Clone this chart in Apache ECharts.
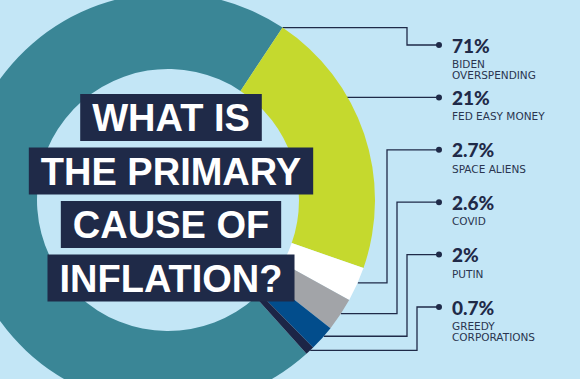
<!DOCTYPE html>
<html>
<head>
<meta charset="utf-8">
<style>
html,body{margin:0;padding:0;background:#c3e6f6;}
#chart{width:580px;height:379px;}
</style>
<script src="https://cdn.jsdelivr.net/npm/echarts@6/dist/echarts.min.js"></script>
</head>
<body>
<div id="chart"></div>
<script>
// ---- data ----
var categories = ['BIDEN\nOVERSPENDING', 'FED EASY MONEY', 'SPACE ALIENS', 'COVID', 'PUTIN', 'GREEDY\nCORPORATIONS'];
var values = [71, 21, 2.7, 2.6, 2, 0.7];
var sliceColors = ['#3a8696', '#c5d92e', '#ffffff', '#a2a4a8', '#024d8c', '#1c2546'];
var titleLines = ['WHAT IS', 'THE PRIMARY', 'CAUSE OF', 'INFLATION?'];

// ---- layout ----
var CX = 168, CY = 200, R_IN = 131, R_OUT = 207;
var START_CW = 138;            // degrees clockwise from 12 o'clock where the first slice starts
var LABEL_X = 436;
var DOT_Y0 = 45, DOT_STEP = 52.4;
var elbowX = [407, null, 387, 397, 407, 417];   // null: straight line
var anchorFrac = [1.0, 0.35, 0.45, 0.47, 0.4, 0.45];
var NAVY = '#1f2a48';
var PCT_LH = 27, NAME_LH = 11;

var total = values.reduce(function (a, b) { return a + b; }, 0);
function anchorAngle(i) {
  var before = 0;
  for (var k = 0; k < i; k++) before += values[k];
  var start = START_CW + 360 * before / total;
  return start + anchorFrac[i] * 360 * values[i] / total;
}

var chart = echarts.init(document.getElementById('chart'), null, { renderer: 'svg' });

var graphics = titleLines.map(function (t, i) {
  return {
    type: 'text',
    x: 171,
    y: 94 + i * 53.5,
    z: 100,
    style: {
      text: t,
      font: 'bold 38px "Liberation Sans", Arial, sans-serif',
      fill: '#ffffff',
      backgroundColor: NAVY,
      padding: [4, 12, 3, 12],
      lineHeight: 40,
      align: 'center',
      verticalAlign: 'top'
    }
  };
});

chart.setOption({
  backgroundColor: '#c3e6f6',
  animation: false,
  graphic: graphics,
  series: [{
    type: 'pie',
    center: [CX, CY],
    radius: [R_IN, R_OUT],
    startAngle: 90 - START_CW,
    clockwise: true,
    avoidLabelOverlap: false,
    emphasis: { disabled: true },
    data: categories.map(function (c, i) {
      return { name: c, value: values[i], itemStyle: { color: sliceColors[i] } };
    }),
    label: {
      show: true,
      position: 'outside',
      formatter: function (p) {
        var names = categories[p.dataIndex].split('\n').map(function (s) { return '{name|' + s + '}'; });
        return '{dot|}{pct|' + values[p.dataIndex] + '%}\n' + names.join('\n');
      },
      rich: {
        dot: { width: 6, height: 6, borderRadius: 3, backgroundColor: NAVY, lineHeight: PCT_LH },
        pct: { fontFamily: 'Lato', fontWeight: 900, fontSize: 19, color: NAVY, lineHeight: PCT_LH, padding: [0, 0, 0, 10] },
        name: { fontFamily: 'DejaVu Sans', fontWeight: 'normal', fontSize: 10.5, color: '#2a3550', lineHeight: NAME_LH, padding: [0, 0, 0, 16] }
      }
    },
    labelLine: {
      show: true,
      length: 10,
      length2: 10,
      lineStyle: { color: NAVY, width: 1.3 }
    },
    labelLayout: function (p) {
      var i = p.dataIndex;
      var dotY = DOT_Y0 + i * DOT_STEP;
      var a = anchorAngle(i) * Math.PI / 180;
      var sx = CX + R_OUT * Math.sin(a);
      var sy = CY - R_OUT * Math.cos(a);
      var ex = elbowX[i] == null ? sx : elbowX[i];
      return {
        x: LABEL_X,
        y: dotY - PCT_LH / 2,
        align: 'left',
        verticalAlign: 'top',
        labelLinePoints: [[sx, sy], [ex, sy], [ex, dotY], [LABEL_X + 3, dotY]]
      };
    }
  }]
});
</script>
</body>
</html>
